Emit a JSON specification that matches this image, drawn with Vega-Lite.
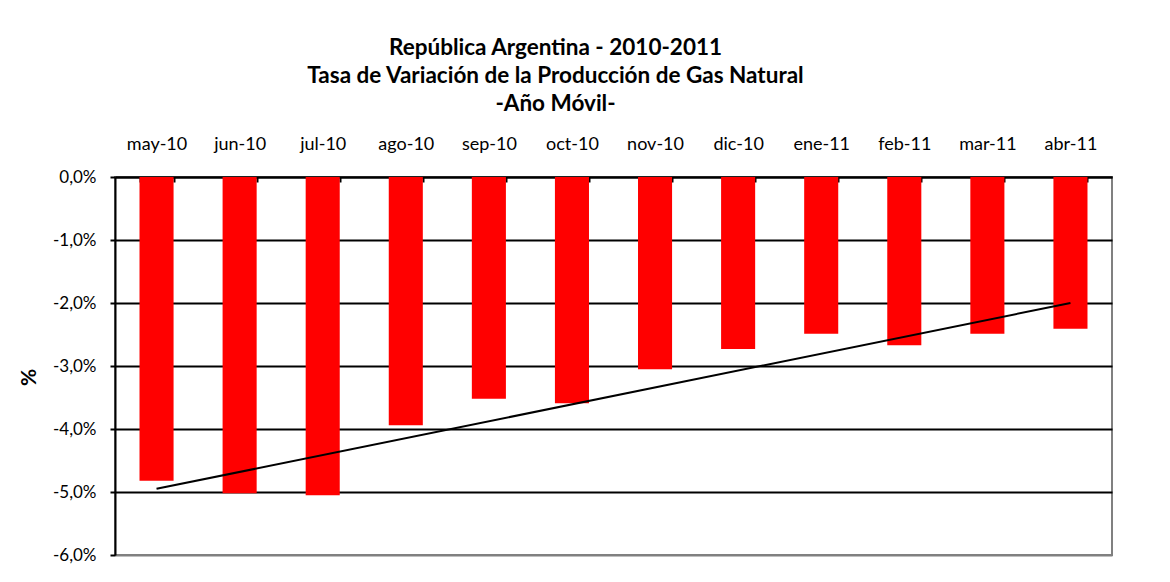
{
  "$schema": "https://vega.github.io/schema/vega-lite/v6.json",
  "width": 997,
  "height": 378,
  "autosize": {"type": "none"},
  "padding": {"left": 115, "top": 177, "right": 58, "bottom": 27},
  "background": "white",
  "config": {
    "font": "Lato",
    "view": {"stroke": "#808080", "strokeWidth": 2}
  },
  "title": {
    "text": ["República Argentina - 2010-2011", "Tasa de Variación de la Producción de Gas Natural", "-Año Móvil-"],
    "font": "Lato",
    "fontSize": 22.5,
    "fontWeight": "bold",
    "lineHeight": 28,
    "color": "black",
    "anchor": "middle",
    "frame": "group",
    "dx": -58,
    "offset": 20
  },
  "datasets": {
    "barras": [
      {"mes": "may-10", "valor": -4.82},
      {"mes": "jun-10", "valor": -5.02},
      {"mes": "jul-10", "valor": -5.05},
      {"mes": "ago-10", "valor": -3.94},
      {"mes": "sep-10", "valor": -3.52},
      {"mes": "oct-10", "valor": -3.59},
      {"mes": "nov-10", "valor": -3.05},
      {"mes": "dic-10", "valor": -2.73},
      {"mes": "ene-11", "valor": -2.49},
      {"mes": "feb-11", "valor": -2.67},
      {"mes": "mar-11", "valor": -2.49},
      {"mes": "abr-11", "valor": -2.41}
    ],
    "tendencia": [
      {"mes": "may-10", "valor": -4.95},
      {"mes": "abr-11", "valor": -2.0}
    ]
  },
  "layer": [
    {
      "data": {"name": "barras"},
      "mark": {"type": "bar", "color": "#FF0000"},
      "encoding": {
        "x": {
          "field": "mes",
          "type": "nominal",
          "scale": {
            "domain": ["may-10", "jun-10", "jul-10", "ago-10", "sep-10", "oct-10", "nov-10", "dic-10", "ene-11", "feb-11", "mar-11", "abr-11"],
            "paddingInner": 0.59,
            "paddingOuter": 0.295
          },
          "axis": {
            "orient": "top",
            "title": null,
            "labelAngle": 0,
            "labelFont": "Lato",
            "labelFontSize": 18,
            "labelColor": "black",
            "labelPadding": 29,
            "tickBand": "extent",
            "tickSize": -5,
            "tickColor": "black",
            "tickWidth": 2,
            "domainColor": "black",
            "domainWidth": 2,
            "grid": false
          }
        },
        "y": {
          "field": "valor",
          "type": "quantitative",
          "scale": {"domain": [-6, 0], "nice": false},
          "axis": {
            "values": [0, -1, -2, -3, -4, -5, -6],
            "labelExpr": "(datum.value < 0 ? '-' : '') + replace(format(abs(datum.value), '.1f'), '.', ',') + '%'",
            "labelFont": "Lato",
            "labelFontSize": 17,
            "labelColor": "black",
            "labelPadding": 14,
            "tickSize": 5,
            "tickColor": "black",
            "tickWidth": 2,
            "domainColor": "black",
            "domainWidth": 2,
            "grid": true,
            "gridColor": {"condition": {"test": "datum.value == -6", "value": "#808080"}, "value": "black"},
            "gridWidth": 2,
            "gridOpacity": 1,
            "title": "%",
            "titleFont": "Lato",
            "titleFontSize": 21,
            "titleFontWeight": "bold",
            "titleColor": "black",
            "titlePadding": 13,
            "titleY": 200
          }
        }
      }
    },
    {
      "data": {"name": "tendencia"},
      "mark": {"type": "line", "color": "black", "strokeWidth": 2},
      "encoding": {
        "x": {"field": "mes", "type": "nominal"},
        "y": {"field": "valor", "type": "quantitative"}
      }
    }
  ]
}
